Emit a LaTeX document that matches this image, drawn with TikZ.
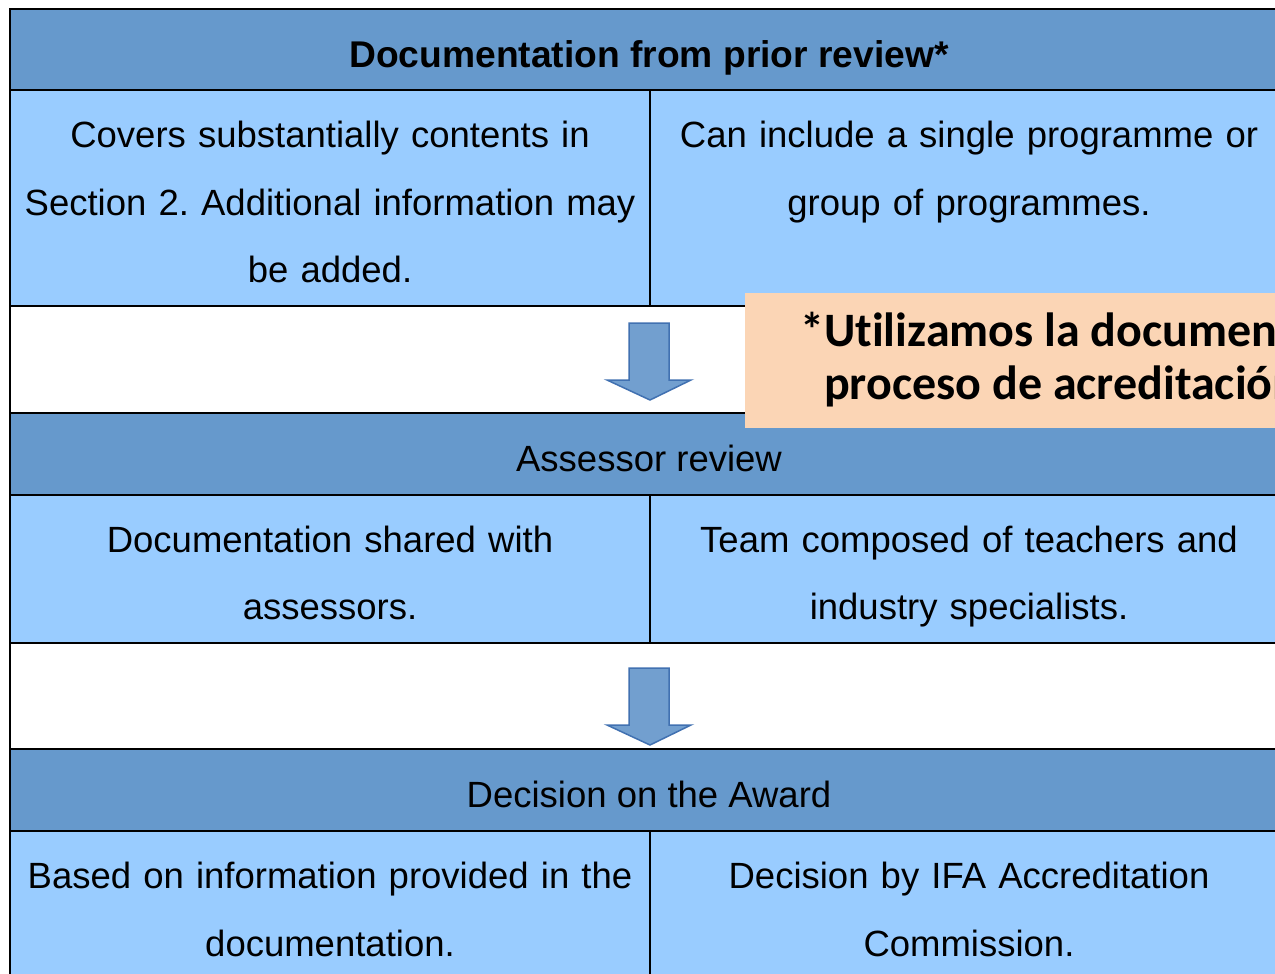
\documentclass[tikz,border=0pt]{standalone}
\usepackage{fontspec}
\setmainfont{Liberation Sans}
\newfontfamily\calib[Ligatures=NoCommon]{Carlito}
\definecolor{hdr}{RGB}{102,153,204}
\definecolor{cellc}{RGB}{153,204,255}
\definecolor{arrowfill}{RGB}{114,159,207}
\definecolor{arrowline}{RGB}{65,113,177}
\definecolor{notec}{RGB}{251,213,181}
\frenchspacing
\begin{document}
\begin{tikzpicture}[x=1pt,y=-1pt,
  hdrcell/.style={draw=black,line width=2pt,fill=hdr},
  bodycell/.style={draw=black,line width=2pt,fill=cellc},
  gapcell/.style={draw=black,line width=2pt,fill=white},
  txt/.style={font=\fontsize{36.5}{67.5}\selectfont,align=center,anchor=base,inner sep=0pt,text width=640pt},
  htxt/.style={font=\fontsize{36.5}{40}\selectfont,anchor=base,inner sep=0pt},
  bigarrow/.style={fill=arrowfill,draw=arrowline,line width=1.5pt,line join=miter},
  notetxt/.style={font=\calib\bfseries\fontsize{48}{53}\selectfont,anchor=base west,inner sep=0pt}]
\clip (0,0) rectangle (1275,974);
\fill[white] (0,0) rectangle (1275,974);
% rows
\path[hdrcell] (10,9) rectangle (1290,90);
\path[bodycell] (10,90) rectangle (650,306);
\path[bodycell] (650,90) rectangle (1290,306);
\path[gapcell] (10,306) rectangle (1290,413);
\path[hdrcell] (10,413) rectangle (1290,495);
\path[bodycell] (10,495) rectangle (650,643);
\path[bodycell] (650,495) rectangle (1290,643);
\path[gapcell] (10,643) rectangle (1290,749);
\path[hdrcell] (10,749) rectangle (1290,831);
\path[bodycell] (10,831) rectangle (650,1000);
\path[bodycell] (650,831) rectangle (1290,1000);
% header texts
\node[htxt,font=\bfseries\fontsize{37.2}{40}\selectfont] (h1) at (649,67.5) {Documentation from prior review*};
\node[htxt] (h2) at (649,471) {Assessor review};
\node[htxt] (h3) at (649,807) {Decision on the Award};
% body texts
\node[txt] (a1) at (330,147.5) {Covers substantially contents in\\Section 2. Additional information may\\be added.};
\node[txt] (a2) at (969,147.5) {Can include a single programme or\\group of programmes.};
\node[txt] (b1) at (330,552) {Documentation shared with\\assessors.};
\node[txt] (b2) at (969,552) {Team composed of teachers and\\industry specialists.};
\node[txt] (c1) at (330,888.5) {Based on information provided in the\\documentation.};
\node[txt] (c2) at (969,888.5) {Decision by IFA Accreditation\\Commission.};
% arrows
\path[bigarrow] (629,323) -- (669,323) -- (669,380) -- (691,380) -- (650,400) -- (607,380) -- (629,380) -- cycle;
\path[bigarrow] (629,668) -- (669,668) -- (669,725) -- (691,725) -- (650,745) -- (607,725) -- (629,725) -- cycle;
% note
\fill[notec] (745,293) rectangle (1300,428);
\node[notetxt] (n1) at (800,346) {*Utilizamos la documentación};
\node[notetxt] (n2) at (824,399) {proceso de acreditación};
\end{tikzpicture}
\end{document}
